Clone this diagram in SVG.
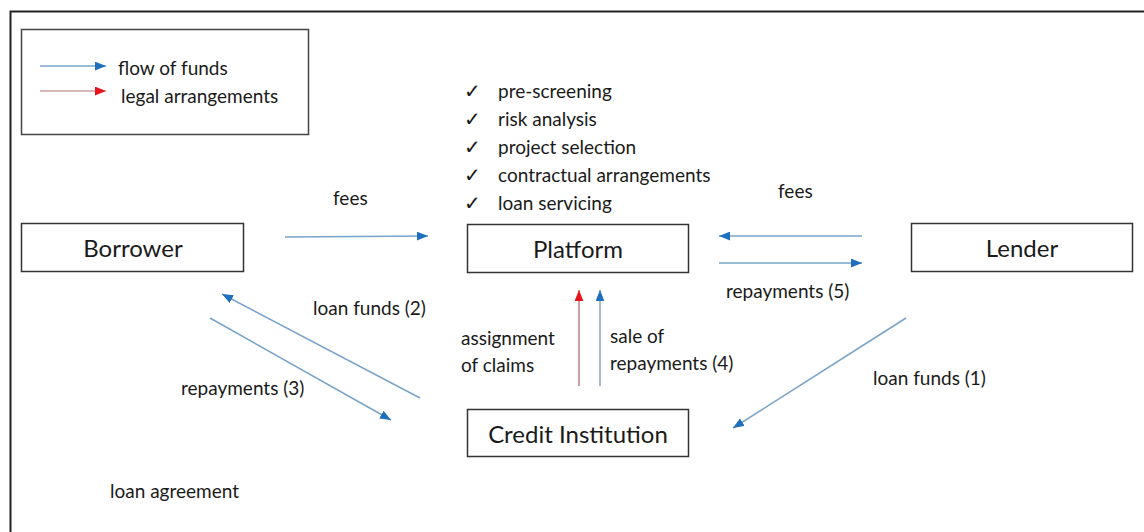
<svg xmlns="http://www.w3.org/2000/svg" width="1144" height="532" viewBox="0 0 1144 532">
<style>
text{font-family:Lato,"Open Sans","Liberation Sans",sans-serif;fill:#1a1a1a}
.lbl{font-size:19px}
.chk{font-size:20px}
.node{font-size:24px;text-anchor:middle}
.box{fill:#fff;stroke:#333;stroke-width:1.5}
.blue{stroke:#7aa3c9;stroke-width:1.5;fill:none;marker-end:url(#hb)}
.red{stroke:#c9a0a0;stroke-width:2;fill:none;marker-end:url(#hr)}
.blue2{stroke:#a9b9c9;stroke-width:2;fill:none;marker-end:url(#hb)}
</style>
<defs>
<marker id="hb" viewBox="0 0 10 8" refX="10" refY="4" markerWidth="11" markerHeight="9" markerUnits="userSpaceOnUse" orient="auto"><path d="M0,0 L10,4 L0,8 z" fill="#1f6fbf"/></marker>
<marker id="hr" viewBox="0 0 10 8" refX="10" refY="4" markerWidth="11" markerHeight="9" markerUnits="userSpaceOnUse" orient="auto"><path d="M0,0 L10,4 L0,8 z" fill="#e8141c"/></marker>
</defs>
<rect width="1144" height="532" fill="#fff"/>
<path d="M10.5,532 V11.5 H1144" fill="none" stroke="#222" stroke-width="2"/>
<g id="legend">
<rect x="21.5" y="29.5" width="287" height="105" fill="none" stroke="#444" stroke-width="1.5"/>
<line x1="40" y1="66" x2="106" y2="66" class="blue"/>
<line x1="40" y1="91" x2="106" y2="91" class="red" style="stroke-width:1.5"/>
<text x="118" y="75" class="lbl">flow of funds</text>
<text x="121" y="103" class="lbl">legal arrangements</text>
</g>
<g id="checklist">
<text x="464" y="98" class="chk">✓</text><text x="498" y="98" class="lbl">pre-screening</text>
<text x="464" y="126" class="chk">✓</text><text x="498" y="126" class="lbl">risk analysis</text>
<text x="464" y="154" class="chk">✓</text><text x="498" y="154" class="lbl">project selection</text>
<text x="464" y="182" class="chk">✓</text><text x="498" y="182" class="lbl">contractual arrangements</text>
<text x="464" y="210" class="chk">✓</text><text x="498" y="210" class="lbl">loan servicing</text>
</g>
<g id="borrower"><rect x="21.5" y="223.5" width="222" height="48" class="box"/><text x="133" y="257" class="node">Borrower</text></g>
<g id="platform"><rect x="467.5" y="224.5" width="221" height="48" class="box"/><text x="578" y="258" class="node">Platform</text></g>
<g id="lender"><rect x="911.5" y="223.5" width="221" height="48" class="box"/><text x="1022" y="257" class="node">Lender</text></g>
<g id="credit-institution"><rect x="467.5" y="409.5" width="221" height="47" class="box"/><text x="578" y="443" class="node">Credit Institution</text></g>
<g id="connectors">
<line x1="285" y1="237" x2="428" y2="236" class="blue"/>
<line x1="862" y1="236" x2="719" y2="236" class="blue"/>
<line x1="719" y1="263" x2="862" y2="263" class="blue"/>
<line x1="420" y1="398" x2="222" y2="294" class="blue"/>
<line x1="210" y1="318" x2="391" y2="420" class="blue"/>
<line x1="906" y1="318" x2="733" y2="428" class="blue"/>
<line x1="579" y1="386" x2="579" y2="290" class="red"/>
<line x1="600" y1="386" x2="600" y2="290" class="blue2"/>
</g>
<g id="labels">
<text x="333" y="205" class="lbl">fees</text>
<text x="778" y="198" class="lbl">fees</text>
<text x="726" y="298" class="lbl">repayments (5)</text>
<text x="313" y="315" class="lbl">loan funds (2)</text>
<text x="181" y="395" class="lbl">repayments (3)</text>
<text x="873" y="385" class="lbl">loan funds (1)</text>
<text x="461" y="345" class="lbl">assignment</text>
<text x="461" y="372" class="lbl">of claims</text>
<text x="610" y="343" class="lbl">sale of</text>
<text x="610" y="370" class="lbl">repayments (4)</text>
<text x="110" y="498" class="lbl">loan agreement</text>
</g>
</svg>
